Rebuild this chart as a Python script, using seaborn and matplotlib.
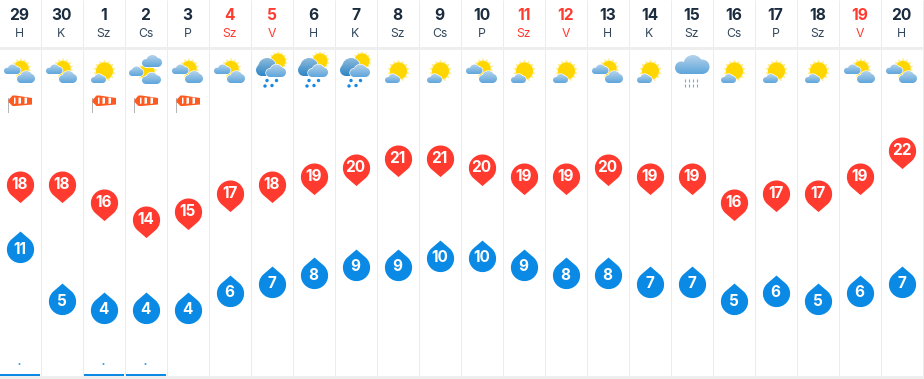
#!/usr/bin/env python3
"""Monthly weather forecast strip: daily max/min temperatures with weather icons."""
import numpy as np
import pandas as pd
import matplotlib
matplotlib.use('Agg')
import matplotlib.pyplot as plt
from matplotlib.patches import Circle, PathPatch, Polygon, Rectangle
from matplotlib.path import Path
from matplotlib.transforms import Affine2D
import seaborn as sns

days = [29, 30, 1, 2, 3, 4, 5, 6, 7, 8, 9, 10, 11, 12, 13, 14, 15, 16, 17, 18, 19, 20]
weekdays = ['H', 'K', 'Sz', 'Cs', 'P', 'Sz', 'V', 'H', 'K', 'Sz', 'Cs', 'P', 'Sz', 'V',
            'H', 'K', 'Sz', 'Cs', 'P', 'Sz', 'V', 'H']
holiday = [0, 0, 0, 0, 0, 1, 1, 0, 0, 0, 0, 0, 1, 1, 0, 0, 0, 0, 0, 0, 1, 0]
tmax = [18, 18, 16, 14, 15, 17, 18, 19, 20, 21, 21, 20, 19, 19, 20, 19, 19, 16, 17, 17, 19, 22]
tmin = [11, 5, 4, 4, 4, 6, 7, 8, 9, 9, 10, 10, 9, 8, 8, 7, 7, 5, 6, 5, 6, 7]
icons = ['pc', 'pc', 'sun', 'three', 'pc', 'pc', 'rain', 'rain', 'rain', 'sun', 'sun', 'pc',
         'sun', 'sun', 'pc', 'sun', 'bigrain', 'sun', 'sun', 'sun', 'pc', 'pc']
windy = [1, 0, 1, 1, 1, 0, 0, 0, 0, 0, 0, 0, 0, 0, 0, 0, 0, 0, 0, 0, 0, 0]
wet = [1, 0, 1, 1, 0, 0, 0, 0, 0, 0, 0, 0, 0, 0, 0, 0, 0, 0, 0, 0, 0, 0]

W, H = 924, 379
COL = 42
OFF = 19.5
RED = '#ff3b30'
BLUE = '#0a8ae4'
DARK = '#1b2c3f'
GRID = '#ececec'

sns.set_theme(style='white')
plt.rcParams['font.family'] = ['Inter', 'DejaVu Sans']

fig = plt.figure(figsize=(W / 100, H / 100), dpi=100)
bg = fig.add_axes([0, 0, 1, 1])
bg.set_xlim(0, W)
bg.set_ylim(H, 0)
bg.axis('off')

zo = [3]


def next_z():
    zo[0] += 1
    return zo[0]


def cloud(x0, y0, x1, y1, top='#b4d2ea', bottom='#5fa6dc', edge=True):
    h = y1 - y0
    w = x1 - x0
    parts = [
        Path.circle((x0 + 0.33 * h, y1 - 0.33 * h), 0.33 * h),
        Path.circle((x1 - 0.38 * h, y1 - 0.38 * h), 0.38 * h),
        Path.circle((x0 + 0.52 * w, y0 + 0.5 * h), 0.5 * h),
        Path([(x0 + 0.33 * h, y1 - 0.4 * h), (x1 - 0.38 * h, y1 - 0.4 * h),
              (x1 - 0.38 * h, y1), (x0 + 0.33 * h, y1), (x0 + 0.33 * h, y1 - 0.4 * h)], closed=True),
    ]
    path = Path.make_compound_path(*parts)
    if edge:
        bg.add_patch(PathPatch(path, fc='white', ec='white', lw=0.9, zorder=next_z()))
    c0 = np.array(matplotlib.colors.to_rgb(top))
    c1 = np.array(matplotlib.colors.to_rgb(bottom))
    grad = np.linspace(0, 1, 32)[:, None, None] * (c1 - c0) + c0
    im = bg.imshow(grad, extent=(x0, x1, y1, y0), aspect='auto', origin='upper', zorder=next_z())
    clip = PathPatch(path, transform=bg.transData)
    im.set_clip_path(clip)


def sun(x, y, r=7.5, rays=10.5):
    star = Path.unit_regular_star(14, 0.72)
    tr = Affine2D().scale(rays).translate(x, y) + bg.transData
    bg.add_patch(PathPatch(star, fc='#ffee8c', ec='none', transform=tr, zorder=next_z()))
    bg.add_patch(Circle((x, y), r, fc='#ffd600', ec='none', zorder=next_z()))


def draw_icon(cx, kind):
    if kind == 'pc':
        sun(cx + 1.5, 68.5)
        cloud(cx - 15.5, 64.5, cx + 1, 74)
        cloud(cx - 2.5, 71, cx + 15.5, 83)
    elif kind == 'sun':
        sun(cx + 1, 71, r=8.5, rays=11.5)
        cloud(cx - 12.5, 74, cx + 2.5, 83)
    elif kind == 'three':
        sun(cx + 1.5, 72, r=7.5, rays=10.5)
        cloud(cx - 16.5, 66.5, cx - 2, 76)
        cloud(cx - 3.5, 55, cx + 16.5, 67)
        cloud(cx - 3.5, 72.5, cx + 15.5, 84)
    elif kind == 'rain':
        sun(cx + 6.5, 61, r=7.5, rays=10)
        cloud(cx - 15.5, 58, cx + 6, 76, top='#8dbbdc', bottom='#2f86c5')
        cloud(cx - 5.5, 64.5, cx + 14.5, 77)
        for dx, dy in [(-4.5, 80.5), (5, 80.5), (-6.5, 86), (0.5, 85.5)]:
            bg.add_patch(Circle((cx + dx, dy), 1.7, fc='#1888e0', ec='none', zorder=next_z()))
    elif kind == 'bigrain':
        cloud(cx - 16.5, 55, cx + 18, 74)
        for row in (79, 84):
            bg.vlines([cx - 7 + 4.3 * k for k in range(4)], row, row + 3, color='#62b2ea',
                      lw=0.8, zorder=next_z())


def windsock(cx):
    z = next_z()
    bg.add_patch(Rectangle((cx - 12, 98), 1.4, 15, fc='#b5b5b5', ec='none', zorder=z))
    bg.add_patch(Polygon([(cx - 11, 100), (cx - 7, 95.5), (cx - 4, 95.5), (cx + 12.5, 98), (cx + 12.5, 104.5),
                          (cx - 4, 106), (cx - 7, 106), (cx - 11, 102)], fc='#ff5a1f', ec='none', zorder=z))
    for a, b in [(-5.5, -4), (-1, 1.5), (5, 7.5)]:
        bg.add_patch(Polygon([(cx + a, 97.5), (cx + b, 97.8), (cx + b, 103.4), (cx + a, 104)],
                             fc='white', ec='none', zorder=z + 0.5))
    zo[0] += 1


# frame: column separators and the grey bands
edges = [COL * k + OFF + COL / 2 for k in range(len(days))]
bg.vlines(edges, 0, H, color=GRID, lw=0.72, zorder=1)
bg.add_patch(Rectangle((0, 47), W, 3, fc='#eeeeee', ec='none', zorder=2))
bg.add_patch(Rectangle((0, 376), W, 3, fc='#eeeeee', ec='none', zorder=2))

for i, d in enumerate(days):
    cx = COL * i + OFF
    color = RED if holiday[i] else DARK
    bg.text(cx, 15, str(d), ha='center', va='center', fontsize=11.2, fontweight='bold', color=color)
    bg.text(cx, 34, weekdays[i], ha='center', va='center', fontsize=8.8,
            color=RED if holiday[i] else '#33475b')
    draw_icon(cx, icons[i])
    if windy[i]:
        windsock(cx)
    if wet[i]:
        bg.add_patch(Rectangle((cx - 0.8, 363.2), 1.6, 1.6, fc=BLUE, ec='none', zorder=3, snap=False))
        left = cx - 20 if i else 0
        bg.add_patch(Rectangle((left, 374), cx + 20.5 - left, 2, fc=BLUE, ec='none', zorder=3))
bg.set_xlim(0, W)
bg.set_ylim(H, 0)

# temperature pins on their own axis, y is in degrees
df = pd.DataFrame({'col': range(len(days)), 'tmax': tmax, 'tmin': tmin})
ax = fig.add_axes([0, 0, 1, 1], facecolor='none')


def teardrop(tip, shift=0.0):
    # circle of radius 1 with straight tangents running out to a tip above or below it
    half = np.degrees(np.arccos(1 / tip))
    if shift:
        arc = Path.arc(-90 + half, 270 - half)
        end = (0, -tip)
    else:
        arc = Path.arc(90 + half, 450 - half)
        end = (0, tip)
    verts = np.vstack([arc.vertices, [end], [arc.vertices[0]]])
    verts[:, 1] += shift
    codes = np.concatenate([arc.codes, [Path.LINETO, Path.CLOSEPOLY]])
    return Path(verts, codes)


pin = teardrop(1.32, shift=0.25)
drop = teardrop(1.32)

sns.scatterplot(data=df, x='col', y='tmax', marker=pin, s=600, color=RED, linewidth=0,
                legend=False, ax=ax, clip_on=False)
sns.scatterplot(data=df, x='col', y='tmin', marker=drop, s=668, color=BLUE, linewidth=0,
                legend=False, ax=ax, clip_on=False)

for i in range(len(days)):
    ax.annotate(str(tmax[i]), (i, tmax[i]), xytext=(0, 2.5), textcoords='offset points',
                ha='center', va='center', color='white', fontsize=11, fontweight='bold')
    ax.annotate(str(tmin[i]), (i, tmin[i]), xytext=(0, 0), textcoords='offset points',
                ha='center', va='center', color='white', fontsize=11, fontweight='bold')

# pixel = 344.7 - 8.68 * t
ax.set_xlim(-OFF / COL, (W - OFF) / COL)
ax.set_ylim((344.7 - H) / 8.68, 344.7 / 8.68)
ax.axis('off')

fig.savefig('out.png', dpi=100)
plt.close(fig)
